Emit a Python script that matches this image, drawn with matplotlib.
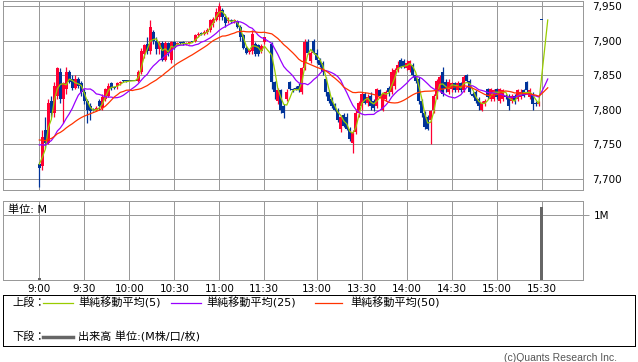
import numpy as np
import pandas as pd
import matplotlib
matplotlib.use("Agg")
import matplotlib.pyplot as plt
from matplotlib.ticker import FuncFormatter

plt.rcParams['font.family'] = ['DejaVu Sans', 'Noto Sans CJK JP']

# 2分足　前場 9:00-11:30 / 後場 12:30-15:30
BAR_MIN = 2
am_open = [7722, 7718, 7770, 7752, 7812, 7795, 7820, 7855, 7815, 7830,
           7855, 7845, 7832, 7845, 7838, 7825, 7812, 7805, 7800, 7800,
           7812, 7802, 7815, 7820, 7838, 7832, 7835, 7838, 7842, 7841,
           7842, 7842, 7842, 7842, 7855, 7880, 7895, 7885, 7912, 7900,
           7888, 7897, 7872, 7896, 7872, 7898, 7895, 7897, 7898, 7895,
           7896, 7898, 7900, 7908, 7910, 7910, 7912, 7915, 7925, 7930,
           7935, 7945, 7935, 7928, 7930, 7928, 7928, 7920, 7908, 7890,
           7884, 7885, 7895, 7893, 7885, 7898]
am_high = [7724, 7770, 7790, 7815, 7820, 7840, 7862, 7860, 7840, 7862,
           7858, 7850, 7850, 7848, 7842, 7830, 7815, 7810, 7802, 7805,
           7815, 7822, 7832, 7838, 7840, 7833, 7840, 7842, 7843, 7842,
           7842, 7842, 7842, 7858, 7890, 7895, 7905, 7930, 7915, 7905,
           7900, 7900, 7900, 7898, 7900, 7899, 7898, 7898, 7900, 7898,
           7898, 7898, 7910, 7912, 7912, 7915, 7918, 7932, 7935, 7948,
           7955, 7948, 7938, 7935, 7932, 7932, 7930, 7922, 7910, 7892,
           7888, 7915, 7898, 7895, 7895, 7905]
am_low = [7688, 7712, 7745, 7750, 7790, 7790, 7815, 7810, 7780, 7822,
          7838, 7828, 7830, 7832, 7820, 7808, 7780, 7785, 7798, 7798,
          7800, 7800, 7812, 7818, 7828, 7830, 7830, 7836, 7840, 7840,
          7842, 7842, 7842, 7840, 7852, 7875, 7880, 7880, 7895, 7880,
          7880, 7870, 7870, 7878, 7868, 7888, 7893, 7895, 7893, 7893,
          7895, 7898, 7898, 7906, 7908, 7908, 7910, 7913, 7920, 7928,
          7930, 7930, 7920, 7925, 7926, 7926, 7918, 7900, 7888, 7880,
          7880, 7880, 7878, 7878, 7882, 7895]
am_close = [7715, 7760, 7752, 7810, 7795, 7835, 7860, 7815, 7838, 7855,
            7840, 7832, 7845, 7835, 7825, 7812, 7800, 7798, 7800, 7802,
            7805, 7818, 7830, 7835, 7832, 7832, 7838, 7840, 7841, 7841,
            7842, 7842, 7842, 7855, 7885, 7893, 7885, 7920, 7900, 7888,
            7897, 7872, 7896, 7882, 7898, 7890, 7897, 7896, 7895, 7896,
            7897, 7898, 7908, 7910, 7910, 7912, 7915, 7930, 7932, 7942,
            7950, 7935, 7925, 7930, 7928, 7930, 7920, 7905, 7890, 7882,
            7886, 7910, 7880, 7880, 7892, 7905]

pm_open = [7895, 7840, 7812, 7828, 7805, 7815, 7840, 7830, 7832, 7835,
           7825, 7860, 7898, 7870, 7900, 7882, 7872, 7868, 7845, 7825,
           7815, 7808, 7800, 7772, 7792, 7790, 7772, 7752, 7768, 7795,
           7805, 7822, 7810, 7820, 7812, 7805, 7828, 7800, 7815, 7832,
           7825, 7835, 7858, 7872, 7870, 7860, 7858, 7865, 7850, 7845,
           7812, 7795, 7790, 7785, 7800, 7820, 7830, 7855, 7840, 7825,
           7830, 7838, 7828, 7838, 7828, 7850, 7842, 7822, 7825, 7815,
           7800, 7810, 7830, 7815, 7815, 7830, 7812, 7815, 7820, 7820,
           7812, 7820, 7815, 7818, 7828, 7840, 7818, 7822, 7810, 7808,
           7930]
pm_high = [7898, 7842, 7832, 7830, 7808, 7830, 7842, 7832, 7835, 7838,
           7862, 7902, 7902, 7885, 7902, 7888, 7875, 7870, 7848, 7828,
           7818, 7810, 7802, 7792, 7795, 7795, 7775, 7770, 7800, 7812,
           7825, 7825, 7822, 7825, 7815, 7832, 7830, 7825, 7828, 7835,
           7860, 7860, 7870, 7875, 7873, 7872, 7872, 7868, 7852, 7848,
           7815, 7798, 7792, 7800, 7822, 7845, 7850, 7862, 7845, 7845,
           7840, 7840, 7842, 7840, 7850, 7852, 7845, 7825, 7828, 7818,
           7812, 7815, 7832, 7832, 7830, 7832, 7832, 7830, 7822, 7822,
           7822, 7822, 7830, 7830, 7830, 7842, 7832, 7825, 7812, 7812,
           7930]
pm_low = [7830, 7815, 7808, 7795, 7788, 7812, 7828, 7825, 7828, 7825,
          7822, 7858, 7880, 7868, 7880, 7868, 7862, 7850, 7820, 7810,
          7802, 7798, 7782, 7768, 7775, 7770, 7755, 7737, 7765, 7790,
          7800, 7808, 7806, 7800, 7798, 7802, 7818, 7798, 7812, 7820,
          7822, 7830, 7855, 7860, 7860, 7858, 7855, 7848, 7838, 7808,
          7790, 7772, 7770, 7750, 7795, 7815, 7825, 7820, 7825, 7822,
          7825, 7825, 7825, 7826, 7825, 7840, 7822, 7818, 7810, 7800,
          7798, 7805, 7815, 7812, 7812, 7815, 7810, 7812, 7815, 7800,
          7810, 7808, 7812, 7815, 7818, 7825, 7815, 7800, 7806, 7805,
          7930]
pm_close = [7840, 7825, 7828, 7800, 7795, 7825, 7830, 7828, 7830, 7828,
            7860, 7898, 7882, 7882, 7882, 7872, 7865, 7855, 7825, 7812,
            7805, 7800, 7785, 7790, 7776, 7772, 7758, 7768, 7795, 7810,
            7822, 7810, 7818, 7805, 7802, 7830, 7820, 7822, 7825, 7825,
            7855, 7858, 7865, 7862, 7862, 7868, 7870, 7850, 7842, 7812,
            7795, 7775, 7772, 7798, 7820, 7842, 7848, 7822, 7830, 7840,
            7838, 7828, 7838, 7828, 7848, 7842, 7825, 7820, 7812, 7805,
            7810, 7812, 7818, 7830, 7828, 7818, 7830, 7828, 7818, 7805,
            7820, 7812, 7828, 7826, 7820, 7828, 7828, 7808, 7808, 7810,
            7930]

# 前日終盤の終値 (移動平均の計算用) と大引け後の値
prev_close = [7768, 7766, 7765, 7764, 7763, 7762, 7764, 7765, 7763, 7762,
              7762, 7761, 7760, 7760, 7759, 7758, 7758, 7757, 7757, 7756,
              7755, 7754, 7730, 7718]
after_close = [7930, 7930]

vol_times = ["09:00", "15:30"]
vol_m = [0.03, 1.12]

ma_periods = [5, 25, 50]
ma_colors = ['#99cc00', '#9900ff', '#ff3300']
tick_times = ["9:00", "9:30", "10:00", "10:30", "11:00", "11:30",
              "13:00", "13:30", "14:00", "14:30", "15:00", "15:30"]
price_ticks = [7700, 7750, 7800, 7850, 7900, 7950]

UP = '#ff0033'
DOWN = '#003399'
GRID = '#999999'
W, H = 638, 362


def to_pos(t):
    m = t.hour * 60 + t.minute
    if m <= 11 * 60 + 30:
        return m - 540
    # 昼休みは 5 分ぶんの間隔に詰める
    return m - (12 * 60 + 30) + 155


def rect(x0, y0, x1, y1):
    return [x0 / W, 1 - y1 / H, (x1 - x0) / W, (y1 - y0) / H]


t_am = pd.date_range("09:00", "11:30", freq="2min")
t_pm = pd.date_range("12:30", "15:30", freq="2min")
t_after = pd.date_range("15:32", periods=len(after_close), freq="2min")
pos = np.array([to_pos(t) for t in list(t_am) + list(t_pm)])
pos_ma = np.array([to_pos(t) for t in list(t_am) + list(t_pm) + list(t_after)])

o = np.array(am_open + pm_open, float)
h = np.array(am_high + pm_high, float)
l = np.array(am_low + pm_low, float)
c = np.array(am_close + pm_close, float)
cols = np.where(c > o, UP, DOWN)

fig = plt.figure(figsize=(6.38, 3.62), dpi=100)

# 上段
ax = fig.add_axes(rect(3, 0.5, 582.7, 190))
ax.vlines(pos, l, h, colors=cols, lw=0.9, zorder=2)
ax.bar(pos, np.maximum(np.abs(c - o), 1.4), bottom=np.minimum(o, c),
       width=1.8, color=cols, linewidth=0, zorder=2)

s = pd.Series(prev_close + am_close + pm_close + after_close, dtype=float)
for p, col in zip(ma_periods, ma_colors):
    w = int(np.ceil(p / BAR_MIN))
    ma = s.rolling(w, min_periods=1).mean().iloc[len(prev_close):]
    ax.plot(pos_ma, ma.values, color=col, lw=0.9, zorder=3)

tick_pos = [to_pos(pd.Timestamp("2024-01-01 " + t)) for t in tick_times]
ax.set_xlim(-24.2, 362.3)
ax.set_ylim(7683.6, 7958.2)
ax.set_xticks(tick_pos)
ax.set_xticklabels([])
ax.set_yticks(price_ticks)
ax.yaxis.set_major_formatter(FuncFormatter(lambda v, _: f"{v:,.0f}"))
ax.yaxis.tick_right()
ax.tick_params(axis='both', length=0, labelsize=7.5)
ax.tick_params(axis='y', pad=7)
ax.grid(True, color=GRID, lw=0.72, zorder=0)
ax.set_axisbelow(True)
for sp in ax.spines.values():
    sp.set_color(GRID)
    sp.set_linewidth(0.72)

# 下段 出来高
vax = fig.add_axes(rect(3, 201, 582.7, 280))
vpos = [to_pos(pd.Timestamp("2024-01-01 " + t)) for t in vol_times]
vax.bar(vpos, vol_m, width=1.9, color='#666666', linewidth=0, zorder=2)
vax.set_xlim(-24.2, 362.3)
vax.set_ylim(0, 1.215)
vax.set_xticks(tick_pos)
vax.set_xticklabels(tick_times)
vax.set_yticks([1])
vax.set_yticklabels(["1M"])
vax.yaxis.tick_right()
vax.tick_params(axis='x', length=0, labelsize=7.5, pad=3)
vax.tick_params(axis='y', length=4, width=0.72, color=GRID, labelsize=7.5, pad=4)
vax.grid(True, color=GRID, lw=0.72, zorder=0)
vax.set_axisbelow(True)
for sp in vax.spines.values():
    sp.set_color(GRID)
    sp.set_linewidth(0.72)
fig.text(8 / W, 1 - 209.3 / H, "単位: M", fontsize=8, va='center')

# 凡例
lax = fig.add_axes(rect(3, 295, 635, 345.7))
lax.set_xlim(0, 632)
lax.set_ylim(50.7, 0)
lax.set_xticks([])
lax.set_yticks([])
for sp in lax.spines.values():
    sp.set_color('black')
    sp.set_linewidth(0.72)
lax.text(9, 8, "上段：", fontsize=8, va='center')
ma_x = [(40, 70, 75), (168, 198, 203), (312, 339, 347)]
for (x0, x1, tx), p, col in zip(ma_x, ma_periods, ma_colors):
    lax.plot([x0, x1], [8, 8], color=col, lw=0.9)
    lax.text(tx, 8, f"単純移動平均({p})", fontsize=8, va='center')
lax.text(9, 41.7, "下段：", fontsize=8, va='center')
lax.plot([40, 70], [41.7, 41.7], color='#666666', lw=2.5)
lax.text(75, 41.7, "出来高 単位:(M株/口/枚)", fontsize=8, va='center')

fig.text(616.7 / W, 1 - 358.3 / H, "(c)Quants Research Inc.", fontsize=7.5,
         family='Liberation Sans', color='#555555', ha='right', va='center')

fig.savefig("out.png", dpi=100)
